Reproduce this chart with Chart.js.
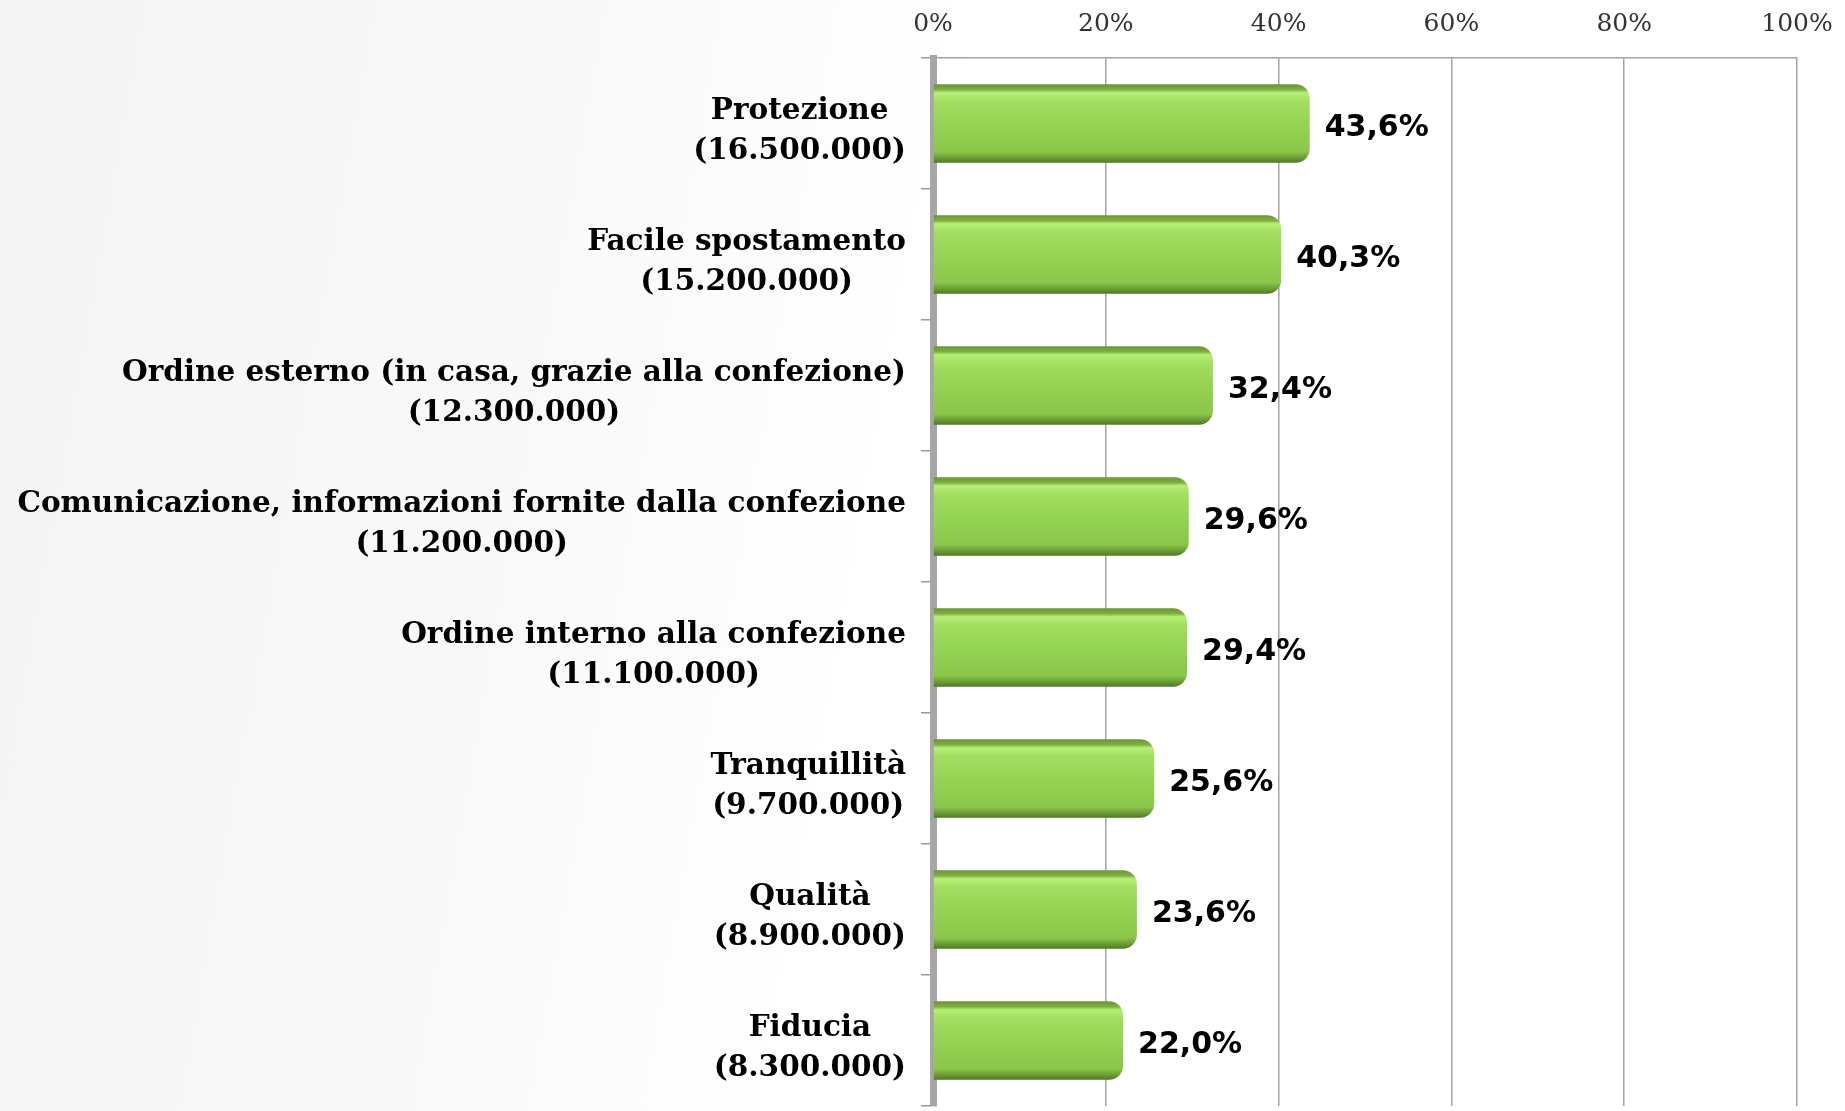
<!DOCTYPE html>
<html>
<head>
<meta charset="utf-8">
<script src="https://cdn.jsdelivr.net/npm/chart.js@4"></script>
<style>
  html, body { margin: 0; padding: 0; }
  body {
    width: 1845px; height: 1111px; overflow: hidden;
    background: linear-gradient(100deg, #f4f4f4 0%, #f9f9f9 30%, #ffffff 48%);
  }
  #wrap { position: relative; width: 1845px; height: 1111px; }
</style>
</head>
<body>
<div id="wrap"><canvas id="barChart"></canvas></div>
<script>
// data
const categories = [
  "Protezione",
  "Facile spostamento",
  "Ordine esterno (in casa, grazie alla confezione)",
  "Comunicazione, informazioni fornite dalla confezione",
  "Ordine interno alla confezione",
  "Tranquillità",
  "Qualità",
  "Fiducia"
];
const people = ["16.500.000", "15.200.000", "12.300.000", "11.200.000",
                "11.100.000", "9.700.000", "8.900.000", "8.300.000"];
const percentages = [43.6, 40.3, 32.4, 29.6, 29.4, 25.6, 23.6, 22.0];
const tickValues = [0, 20, 40, 60, 80, 100];

const BAR_FRACTION = 0.6;

function barGradient(context) {
  const chart = context.chart;
  const y = chart.scales.y;
  const area = chart.chartArea;
  if (!y || !area) return "#94d352";
  const yc = y.getPixelForValue(context.dataIndex);
  const half = (area.bottom - area.top) / categories.length * BAR_FRACTION / 2;
  const g = chart.ctx.createLinearGradient(0, yc - half, 0, yc + half);
  g.addColorStop(0.00, "#6a9633");
  g.addColorStop(0.07, "#7eaf40");
  g.addColorStop(0.11, "#b6ef76");
  g.addColorStop(0.22, "#a2de60");
  g.addColorStop(0.50, "#95d453");
  g.addColorStop(0.86, "#8ac64a");
  g.addColorStop(0.94, "#6a9b34");
  g.addColorStop(1.00, "#4d7823");
  return g;
}

// category names (centered lines, block right-aligned to the axis)
const categoryLabels = {
  id: "categoryLabels",
  afterDraw(chart) {
    const ctx = chart.ctx;
    const y = chart.scales.y;
    const right = chart.chartArea.left - 27;
    ctx.save();
    ctx.font = "bold 29.5px 'DejaVu Serif'";
    ctx.fillStyle = "#000";
    ctx.textBaseline = "middle";
    ctx.textAlign = "center";
    categories.forEach((name, i) => {
      const second = "(" + people[i] + ")";
      const w = Math.max(ctx.measureText(name).width, ctx.measureText(second).width);
      const cx = right - w / 2;
      const yc = y.getPixelForTick(i) + 8;
      ctx.fillText(name, cx, yc - 20);
      ctx.fillText(second, cx, yc + 20);
    });
    ctx.restore();
  }
};

// percentage value after each bar
const valueLabels = {
  id: "valueLabels",
  afterDatasetsDraw(chart) {
    const ctx = chart.ctx;
    const meta = chart.getDatasetMeta(0);
    ctx.save();
    ctx.font = "bold 30px 'DejaVu Sans'";
    ctx.fillStyle = "#000";
    ctx.textBaseline = "middle";
    ctx.textAlign = "left";
    meta.data.forEach((bar, i) => {
      const txt = percentages[i].toFixed(1).replace(".", ",") + "%";
      ctx.fillText(txt, bar.x + 15, bar.y + 5);
    });
    ctx.restore();
  }
};

const ctx = document.getElementById("barChart").getContext("2d");
const barChart = new Chart(ctx, {
  type: "bar",
  data: {
    labels: categories,
    datasets: [
      {
        data: percentages,
        backgroundColor: barGradient,
        borderWidth: 0,
        borderRadius: 14,
        borderSkipped: "start",
        barPercentage: 1,
        categoryPercentage: BAR_FRACTION,
      },
    ],
  },
  options: {
    indexAxis: "y",
    responsive: true,
    maintainAspectRatio: false,
    animation: false,
    layout: { padding: { top: 0, right: 48, bottom: 5, left: 0 } },
    scales: {
      x: {
        position: "top",
        min: 0,
        max: 100,
        afterBuildTicks: (scale) => {
          scale.ticks = tickValues.map((v) => ({ value: v }));
        },
        afterFit: (scale) => {
          scale.height = 58;
          scale.paddingLeft = 0;
          scale.paddingRight = 0;
        },
        ticks: {
          padding: 19,
          color: "#333",
          font: { family: "'DejaVu Serif'", size: 25 },
          callback: (v) => v + "%",
        },
        grid: { color: "#a3a3a3", lineWidth: 1.5, drawTicks: false },
        border: { display: true, color: "#a3a3a3", width: 1.5 },
      },
      y: {
        afterFit: (scale) => { scale.width = 933; },
        ticks: { display: false },
        grid: {
          offset: true,
          drawOnChartArea: false,
          drawTicks: true,
          tickLength: 12,
          color: "#9a9a9a",
          lineWidth: 1.5,
        },
        border: { display: true, color: "#a6a6a6", width: 7 },
      },
    },
    plugins: {
      legend: { display: false },
      tooltip: { enabled: false },
    },
  },
  plugins: [categoryLabels, valueLabels],
});
</script>
</body>
</html>
